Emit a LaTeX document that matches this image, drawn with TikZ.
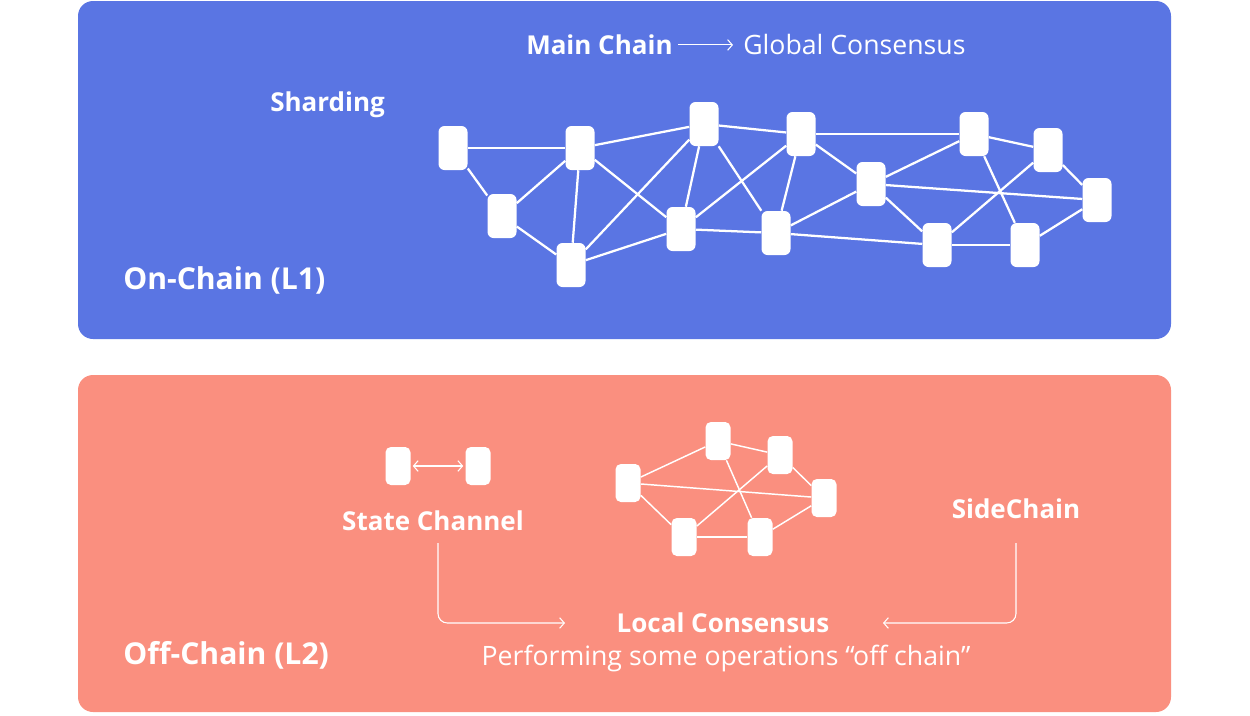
\documentclass[tikz,border=0pt]{standalone}
\usepackage{fontspec}
\setmainfont{Open Sans}
\usetikzlibrary{arrows.meta}
\definecolor{bluebg}{HTML}{5A75E3}
\definecolor{redbg}{HTML}{FA8F7F}
\begin{document}
\begin{tikzpicture}[x=0.75pt,y=-0.75pt,
  panel/.style={rounded corners=11.25pt},
  bignode/.style={fill=white, draw=none, rounded corners=4.5pt, minimum width=21.75pt, minimum height=33pt, inner sep=0pt},
  smallnode/.style={fill=white, draw=none, rounded corners=4pt, minimum width=18.75pt, minimum height=28.5pt, inner sep=0pt},
  tedge/.style={draw=white, line width=1.7pt},
  sedge/.style={draw=white, line width=1.1pt},
  thinarrow/.style={draw=white, line width=0.8pt, -{Straight Barb[length=3.5pt,width=8pt]}},
  lbl/.style={text=white, inner sep=0pt, font=\bfseries\fontsize{19.5}{22}\selectfont},
  biglbl/.style={text=white, inner sep=0pt, font=\bfseries\fontsize{22.6}{26}\selectfont},
  reglbl/.style={text=white, inner sep=0pt, font=\fontsize{20}{23}\selectfont}
]
\useasboundingbox (0,0) rectangle (1250,715);
% panels
\fill[bluebg, panel] (78,1) rectangle (1171,339);
\fill[redbg, panel] (78,375) rectangle (1171,712);

% top labels
\node[lbl, anchor=base west] (mc) at (526,54) {Main Chain};
\node[reglbl, anchor=base west] (gc) at (743,54) {Global Consensus};
\draw[thinarrow] ([xshift=4pt,yshift=6.8pt]mc.base east) -- ([xshift=-7.5pt,yshift=6.8pt]gc.base west);
\node[lbl, anchor=base west] (sh) at (270,111) {Sharding};
\node[biglbl, anchor=base west] (on) at (123,289) {On-Chain (L1)};

% top network
\node[bignode] (n1) at (453,148) {};
\node[bignode] (n2) at (580,148) {};
\node[bignode] (n3) at (502,216) {};
\node[bignode] (n4) at (571,265) {};
\node[bignode] (n5) at (704,124) {};
\node[bignode] (n6) at (681,229) {};
\node[bignode] (n7) at (801,134) {};
\node[bignode] (n8) at (776,233) {};
\node[bignode] (n9) at (871,184) {};
\node[bignode] (n10) at (974,134) {};
\node[bignode] (n11) at (1048,150) {};
\node[bignode] (n12) at (1097,200) {};
\node[bignode] (n13) at (937,245) {};
\node[bignode] (n14) at (1025,245) {};
\foreach \a/\b in {n1/n2,n1/n3,n2/n3,n2/n4,n3/n4,n2/n5,n2/n6,n4/n5,n4/n6,n5/n6,n5/n8,n5/n7,
  n6/n7,n6/n8,n7/n8,n8/n9,n8/n13,n7/n10,n7/n9,n9/n10,n9/n12,n9/n13,n10/n11,n10/n14,n11/n13,
  n11/n12,n12/n14,n13/n14}
  \draw[tedge] (\a) -- (\b);

% bottom: state channel
\node[smallnode] (sa) at (398,466) {};
\node[smallnode] (sb) at (478,466) {};
\draw[draw=white, line width=0.8pt, {Straight Barb[length=3.5pt,width=8pt]}-{Straight Barb[length=3.5pt,width=8pt]}, shorten <=1.5pt, shorten >=1.5pt] (sa) -- (sb);
\node[lbl, anchor=base] (sc) at (433,530) {State Channel};
\node[lbl, anchor=base] (sd) at (1016,518) {SideChain};

% bottom network
\node[smallnode] (b1) at (628,483) {};
\node[smallnode] (b2) at (718,441) {};
\node[smallnode] (b3) at (780,455) {};
\node[smallnode] (b4) at (824,498) {};
\node[smallnode] (b5) at (684,537) {};
\node[smallnode] (b6) at (760,537) {};
\foreach \a/\b in {b1/b2,b1/b4,b1/b5,b2/b3,b2/b6,b3/b5,b3/b4,b5/b6,b6/b4}
  \draw[sedge] (\a) -- (\b);

% local consensus
\node[lbl, anchor=base] (lc) at (723,632) {Local Consensus};
\node[reglbl, anchor=base] (pf) at (726,665) {Performing some operations “off chain”};
\node[biglbl, anchor=base west] (off) at (123,664) {Off-Chain (L2)};

\coordinate (l1) at (438,543);
\coordinate (l2) at (565,623);
\coordinate (r1) at (1016,543);
\coordinate (r2) at (883,623);
\draw[thinarrow, rounded corners=7pt] (l1) |- (l2);
\draw[thinarrow, rounded corners=7pt] (r1) |- (r2);
\end{tikzpicture}
\end{document}
